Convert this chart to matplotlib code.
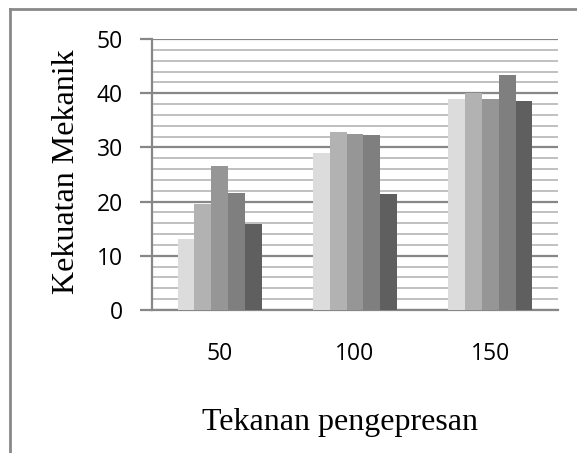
import numpy as np
import matplotlib.pyplot as plt
from matplotlib.lines import Line2D
from matplotlib.ticker import MultipleLocator

# data
categories = ["50", "100", "150"]
series_1 = [13.1, 29.0, 39.0]
series_2 = [19.5, 32.8, 40.0]
series_3 = [26.6, 32.5, 38.9]
series_4 = [21.5, 32.2, 43.3]
series_5 = [15.8, 21.4, 38.6]
colors = ["#dcdcdc", "#b2b2b2", "#969696", "#7f7f7f", "#5f5f5f"]

W, H = 577, 453
fig = plt.figure(figsize=(W / 100, H / 100), dpi=100)
ax = fig.add_axes([152 / W, 1 - 310 / H, 406 / W, 271 / H])

x = np.arange(len(categories))
bw = 0.124
all_series = [series_1, series_2, series_3, series_4, series_5]
for i, vals in enumerate(all_series):
    ax.bar(x + (i - 2) * bw, vals, width=bw, color=colors[i], zorder=3, linewidth=0)

ax.set_xlim(-0.5, 2.5)
ax.set_ylim(0, 50)
ax.yaxis.set_major_locator(MultipleLocator(10))
ax.yaxis.set_minor_locator(MultipleLocator(2))
ax.grid(which="major", axis="y", color="#878787", linewidth=1.6, zorder=1)
ax.grid(which="minor", axis="y", color="#c0c0c0", linewidth=1.4, zorder=1)

for s in ["top", "right"]:
    ax.spines[s].set_visible(False)
for s in ["left", "bottom"]:
    ax.spines[s].set_color("#878787")
    ax.spines[s].set_linewidth(1.6)

ax.set_xticks(x)
ax.set_xticklabels(categories)
ax.tick_params(axis="x", length=0, pad=23)
ax.tick_params(axis="y", which="major", length=9, width=1.6, color="#878787", pad=12)
ax.tick_params(axis="y", which="minor", length=0)
for lab in ax.get_xticklabels() + ax.get_yticklabels():
    lab.set_fontfamily("Open Sans")
    lab.set_fontsize(16.5)

fig.text(81 / W, 1 - 172 / H, "Kekuatan Mekanik", family="Liberation Serif",
         fontsize=23, rotation=90, ha="right", va="center")
fig.text(340 / W, 1 - 430 / H, "Tekanan pengepresan", family="Liberation Serif",
         fontsize=23, ha="center", va="baseline")

# outer chart border (only left and top visible in the crop)
fig.add_artist(Line2D([10 / W, 10 / W], [0, 1 - 9 / H], transform=fig.transFigure,
                      color="#898989", linewidth=2))
fig.add_artist(Line2D([10 / W, 1], [1 - 9 / H, 1 - 9 / H], transform=fig.transFigure,
                      color="#898989", linewidth=2))

fig.savefig("out.png", dpi=100)
